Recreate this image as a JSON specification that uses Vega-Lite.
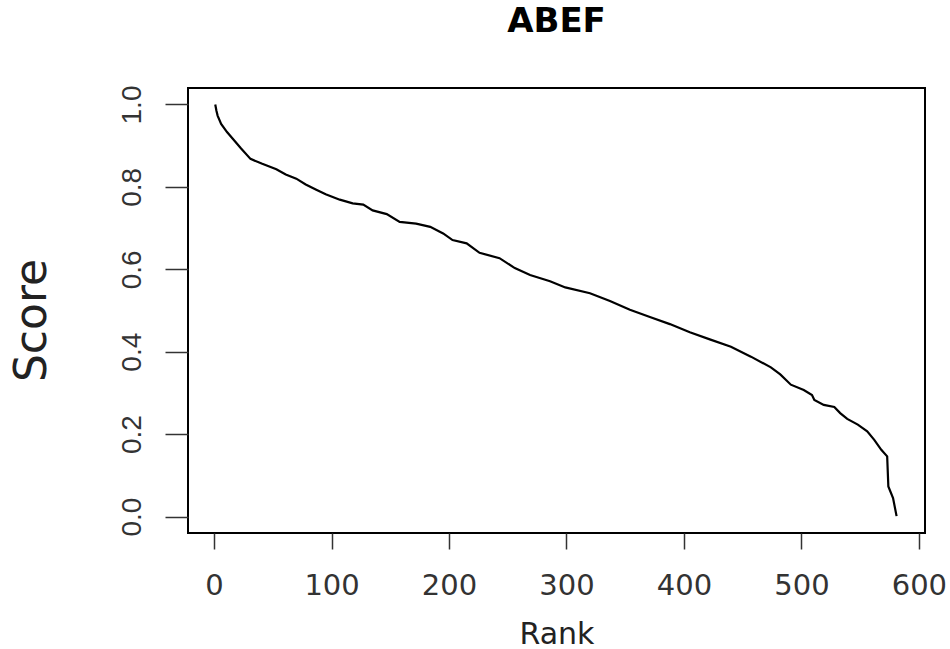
{
  "$schema": "https://vega.github.io/schema/vega-lite/v6.json",
  "autosize": "none",
  "width": 737,
  "height": 445,
  "padding": {"left": 188, "top": 88, "right": 25, "bottom": 116},
  "background": "white",
  "title": {
    "text": "ABEF",
    "font": "DejaVu Sans",
    "fontSize": 34,
    "fontWeight": "bold",
    "color": "black",
    "anchor": "middle",
    "frame": "group",
    "baseline": "alphabetic",
    "offset": 19
  },
  "config": {
    "view": {"stroke": "black", "strokeWidth": 2},
    "axis": {"grid": false, "domain": false}
  },
  "data": {
    "values": [
      {"rank": 1, "score": 1.0},
      {"rank": 2, "score": 0.985},
      {"rank": 3, "score": 0.973},
      {"rank": 6, "score": 0.953},
      {"rank": 11, "score": 0.933},
      {"rank": 17, "score": 0.913},
      {"rank": 23, "score": 0.893},
      {"rank": 31, "score": 0.868},
      {"rank": 41, "score": 0.856},
      {"rank": 53, "score": 0.843},
      {"rank": 61, "score": 0.83},
      {"rank": 70, "score": 0.82},
      {"rank": 78, "score": 0.806},
      {"rank": 87, "score": 0.793},
      {"rank": 95, "score": 0.782},
      {"rank": 107, "score": 0.769},
      {"rank": 118, "score": 0.76},
      {"rank": 127, "score": 0.757},
      {"rank": 135, "score": 0.743},
      {"rank": 147, "score": 0.734},
      {"rank": 158, "score": 0.715},
      {"rank": 172, "score": 0.711},
      {"rank": 184, "score": 0.703},
      {"rank": 195, "score": 0.687},
      {"rank": 203, "score": 0.671},
      {"rank": 215, "score": 0.663},
      {"rank": 226, "score": 0.64},
      {"rank": 243, "score": 0.627},
      {"rank": 256, "score": 0.603},
      {"rank": 269, "score": 0.586},
      {"rank": 286, "score": 0.571},
      {"rank": 299, "score": 0.556},
      {"rank": 320, "score": 0.542},
      {"rank": 337, "score": 0.523},
      {"rank": 354, "score": 0.502},
      {"rank": 371, "score": 0.484},
      {"rank": 388, "score": 0.467},
      {"rank": 405, "score": 0.447},
      {"rank": 422, "score": 0.43},
      {"rank": 440, "score": 0.412},
      {"rank": 457, "score": 0.388},
      {"rank": 474, "score": 0.362},
      {"rank": 482, "score": 0.345},
      {"rank": 491, "score": 0.32},
      {"rank": 502, "score": 0.307},
      {"rank": 509, "score": 0.295},
      {"rank": 511, "score": 0.283},
      {"rank": 519, "score": 0.271},
      {"rank": 528, "score": 0.266},
      {"rank": 533, "score": 0.251},
      {"rank": 539, "score": 0.237},
      {"rank": 548, "score": 0.223},
      {"rank": 556, "score": 0.207},
      {"rank": 562, "score": 0.186},
      {"rank": 568, "score": 0.162},
      {"rank": 573, "score": 0.146},
      {"rank": 574, "score": 0.073},
      {"rank": 578, "score": 0.045},
      {"rank": 581, "score": 0.001}
    ]
  },
  "mark": {"type": "line", "color": "black", "strokeWidth": 2.2},
  "encoding": {
    "x": {
      "field": "rank",
      "type": "quantitative",
      "scale": {"domain": [-22.2, 605.2], "nice": false, "zero": false},
      "axis": {
        "title": "Rank",
        "values": [0, 100, 200, 300, 400, 500, 600],
        "tickSize": 16,
        "tickWidth": 1.5,
        "tickColor": "#333",
        "labelFont": "DejaVu Sans",
        "labelFontSize": 29,
        "labelColor": "#333",
        "labelPadding": 22,
        "labelFlush": false,
        "labelOverlap": false,
        "titleFont": "DejaVu Sans",
        "titleFontSize": 30,
        "titleFontWeight": "normal",
        "titleColor": "#222",
        "titleBaseline": "alphabetic",
        "titleY": 110
      }
    },
    "y": {
      "field": "score",
      "type": "quantitative",
      "scale": {"domain": [-0.04, 1.04], "nice": false, "zero": false},
      "axis": {
        "title": "Score",
        "values": [0, 0.2, 0.4, 0.6, 0.8, 1.0],
        "format": ".1f",
        "tickSize": 23,
        "tickWidth": 1.5,
        "tickColor": "#333",
        "labelFont": "Liberation Sans",
        "labelFontSize": 28,
        "labelColor": "#333",
        "labelAngle": -90,
        "labelAlign": "center",
        "labelBaseline": "bottom",
        "labelPadding": 19,
        "labelFlush": false,
        "labelOverlap": false,
        "titleFont": "DejaVu Sans",
        "titleFontSize": 44,
        "titleFontWeight": "normal",
        "titleColor": "#222",
        "titleAngle": -90,
        "titleAlign": "center",
        "titleBaseline": "middle",
        "titleX": -156,
        "titleY": 232
      }
    }
  }
}
